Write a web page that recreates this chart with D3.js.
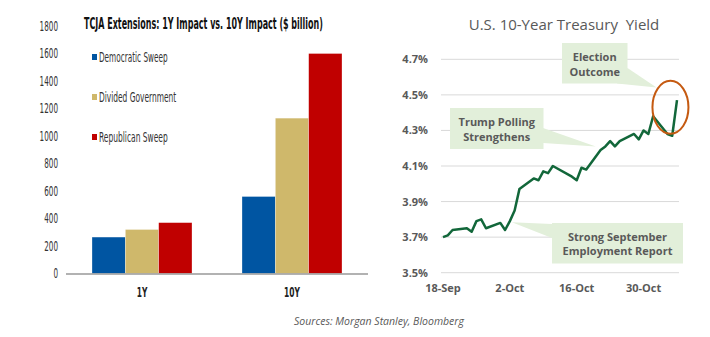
<!DOCTYPE html>
<html>
<head>
<meta charset="utf-8">
<script src="https://cdn.jsdelivr.net/npm/d3@7"></script>
<style>
  body { margin: 0; background: #fff; }
  svg { display: block; }
  .narrow { font-family: 'DejaVu Sans Condensed', 'DejaVu Sans', sans-serif; font-stretch: condensed; }
  .calib { font-family: 'Open Sans', 'Noto Sans', sans-serif; }
</style>
</head>
<body>
<svg id="chart" width="710" height="337"></svg>
<script>
// left panel data
const barCategories = ['1Y', '10Y']
const barSeries = ['Democratic Sweep', 'Divided Government', 'Republican Sweep']
const barColors = ['#0055a2', '#cfb86b', '#c00000']
const barValues = [
  [265, 320, 370],   // 1Y
  [560, 1130, 1600]  // 10Y
]
const barTicks = [0, 200, 400, 600, 800, 1000, 1200, 1400, 1600, 1800]

// right panel data
const yieldDates = ['2024-09-18', '2024-09-19', '2024-09-20', '2024-09-23', '2024-09-24', '2024-09-25',
  '2024-09-26', '2024-09-27', '2024-09-30', '2024-10-01', '2024-10-02', '2024-10-03', '2024-10-04',
  '2024-10-07', '2024-10-08', '2024-10-09', '2024-10-10', '2024-10-11', '2024-10-15', '2024-10-16',
  '2024-10-17', '2024-10-18', '2024-10-21', '2024-10-22', '2024-10-23', '2024-10-24', '2024-10-25',
  '2024-10-28', '2024-10-29', '2024-10-30', '2024-10-31', '2024-11-01', '2024-11-04', '2024-11-05',
  '2024-11-06']
const yieldValues = [3.70, 3.71, 3.74, 3.75, 3.73, 3.79, 3.80, 3.75, 3.78, 3.74, 3.79, 3.85, 3.97,
  4.03, 4.02, 4.07, 4.06, 4.10, 4.04, 4.02, 4.09, 4.08, 4.19, 4.21, 4.24, 4.21, 4.24,
  4.28, 4.25, 4.30, 4.28, 4.38, 4.28, 4.27, 4.47]
const yieldTicks = [3.5, 3.7, 3.9, 4.1, 4.3, 4.5, 4.7]
const dateTicks = ['2024-09-18', '2024-10-02', '2024-10-16', '2024-10-30']

const svg = d3.select('#chart')
const parse = d3.timeParse('%Y-%m-%d')

// squeeze a text node horizontally around its x so it fits a target width (narrow font stand-in)
function fitWidth(sel, w) {
  sel.each(function () {
    const len = this.getComputedTextLength()
    if (len <= w) return
    const x = +this.getAttribute('x')
    d3.select(this).attr('transform', `translate(${x},0) scale(${w / len},1) translate(${-x},0)`)
  })
}

// ---------- left: bar chart ----------
const left = svg.append('g').attr('class', 'narrow')

const yBar = d3.scaleLinear().domain([0, 1800]).range([273.5, 26])
const xGroup = d3.scaleBand().domain(barCategories).range([67, 367])
const xInner = d3.scaleBand().domain(barSeries).range([25, 125])

left.append('text')
  .attr('x', 84).attr('y', 29.5)
  .attr('font-size', 16).attr('font-weight', 'bold').attr('fill', '#111')
  .text('TCJA Extensions: 1Y Impact vs. 10Y Impact ($ billion)')
  .call(fitWidth, 239)

left.append('g')
  .selectAll('text')
  .data(barTicks)
  .enter().append('text')
  .attr('x', 58).attr('y', d => yBar(d) + 5)
  .attr('text-anchor', 'end')
  .attr('font-size', 13.5).attr('fill', '#333')
  .text(d => d)
  .each(function (d) { fitWidth(d3.select(this), String(d).length * 4.6) })

const groups = left.append('g')
  .selectAll('g')
  .data(barCategories)
  .enter().append('g')
  .attr('transform', d => `translate(${xGroup(d)},0)`)

groups.selectAll('rect')
  .data((d, i) => barValues[i].map((v, j) => ({ v, s: barSeries[j], c: barColors[j] })))
  .enter().append('rect')
  .attr('x', d => xInner(d.s))
  .attr('width', xInner.bandwidth())
  .attr('y', d => yBar(d.v))
  .attr('height', d => yBar(0) - yBar(d.v))
  .attr('fill', d => d.c)
  .attr('stroke', '#fff').attr('stroke-opacity', 0.5).attr('stroke-width', 0.6)

left.append('line')
  .attr('x1', 66).attr('x2', 368)
  .attr('y1', yBar(0) + 0.5).attr('y2', yBar(0) + 0.5)
  .attr('stroke', '#999').attr('stroke-width', 1.5)

left.append('g')
  .selectAll('text')
  .data(barCategories)
  .enter().append('text')
  .attr('x', d => xGroup(d) + xGroup.bandwidth() / 2)
  .attr('y', 297)
  .attr('text-anchor', 'middle')
  .attr('font-size', 13.5).attr('font-weight', 'bold').attr('fill', '#222')
  .text(d => d)
  .each(function (d) { fitWidth(d3.select(this), d.length * 5.3) })

const legend = left.append('g')
  .selectAll('g')
  .data(barSeries)
  .enter().append('g')
  .attr('transform', (d, i) => `translate(92,${57 + i * 40})`)
legend.append('rect')
  .attr('x', 0).attr('y', -3).attr('width', 5).attr('height', 6)
  .attr('fill', (d, i) => barColors[i])
legend.append('text')
  .attr('x', 7).attr('y', 5)
  .attr('font-size', 13.5).attr('fill', '#333')
  .text(d => d)
  .each(function (d) { fitWidth(d3.select(this), d.length * 4.3) })

// ---------- right: line chart ----------
const right = svg.append('g').attr('class', 'calib')
const points = yieldDates.map((d, i) => ({ date: parse(d), v: yieldValues[i] }))

const xDate = d3.scaleTime()
  .domain([parse('2024-09-18'), parse('2024-11-06')])
  .range([443, 677])
const yYield = d3.scaleLinear().domain([3.5, 4.7]).range([272.7, 59.3])

right.append('text')
  .attr('x', 564).attr('y', 30)
  .attr('text-anchor', 'middle')
  .attr('font-size', 15).attr('fill', '#595959')
  .style('white-space', 'pre')
  .text('U.S. 10-Year Treasury  Yield')

right.append('g')
  .selectAll('line')
  .data(yieldTicks)
  .enter().append('line')
  .attr('x1', 441).attr('x2', 679)
  .attr('y1', d => yYield(d)).attr('y2', d => yYield(d))
  .attr('stroke', '#d9d9d9').attr('stroke-width', 1)

right.append('g')
  .selectAll('text')
  .data(yieldTicks)
  .enter().append('text')
  .attr('x', 428).attr('y', d => yYield(d) + 4)
  .attr('text-anchor', 'end')
  .attr('font-size', 11).attr('font-weight', 'bold').attr('fill', '#595959')
  .text(d => d.toFixed(1) + '%')

right.append('g')
  .selectAll('text')
  .data(dateTicks)
  .enter().append('text')
  .attr('x', d => xDate(parse(d)))
  .attr('y', 292)
  .attr('text-anchor', 'middle')
  .attr('font-size', 11).attr('font-weight', 'bold').attr('fill', '#595959')
  .text(d => d3.timeFormat('%-d-%b')(parse(d)))

// callouts
const boxFill = '#e2efda'
function callout(box, wedge, lines, lineY) {
  const g = right.append('g')
  g.append('polygon').attr('points', wedge.map(p => p.join(',')).join(' ')).attr('fill', boxFill)
  g.append('rect').attr('x', box[0]).attr('y', box[1]).attr('width', box[2]).attr('height', box[3]).attr('fill', boxFill)
  lines.forEach((t, i) => {
    g.append('text')
      .attr('x', box[0] + box[2] / 2).attr('y', lineY[i])
      .attr('text-anchor', 'middle')
      .attr('font-size', 11).attr('font-weight', 'bold').attr('fill', '#595959')
      .text(t)
  })
}

const trumpTip = [xDate(parse('2024-10-20')), yYield(4.21)]
const jobsTip = [xDate(parse('2024-10-02')) + 2, yYield(3.79) + 1]
callout([450, 108, 93.5, 41], [[543, 128], trumpTip, [543, 143]],
  ['Trump Polling', 'Strengthens'], [125.5, 140.5])
callout([552, 223, 131, 40.5], [[552, 224], jobsTip, [552, 238]],
  ['Strong September', 'Employment Report'], [240.5, 254.5])
callout([562, 43, 65.5, 40.5], [[627.5, 68], [656.5, 87.5], [617, 83.5]],
  ['Election', 'Outcome'], [60.5, 75.5])

const line = d3.line()
  .x(d => xDate(d.date))
  .y(d => yYield(d.v))

right.append('path')
  .datum(points)
  .attr('d', line)
  .attr('fill', 'none')
  .attr('stroke', '#12673a')
  .attr('stroke-width', 2.5)
  .attr('stroke-linejoin', 'round')

right.append('ellipse')
  .attr('cx', xDate(parse('2024-11-04')) + 3)
  .attr('cy', yYield(4.43))
  .attr('rx', 18).attr('ry', 26.5)
  .attr('fill', 'none')
  .attr('stroke', '#c55a11').attr('stroke-width', 2)

// source
svg.append('text')
  .attr('class', 'calib')
  .attr('x', 379).attr('y', 324.5)
  .attr('text-anchor', 'middle')
  .attr('font-size', 10.5).attr('font-style', 'italic').attr('fill', '#595959')
  .text('Sources: Morgan Stanley, Bloomberg')
</script>
</body>
</html>
